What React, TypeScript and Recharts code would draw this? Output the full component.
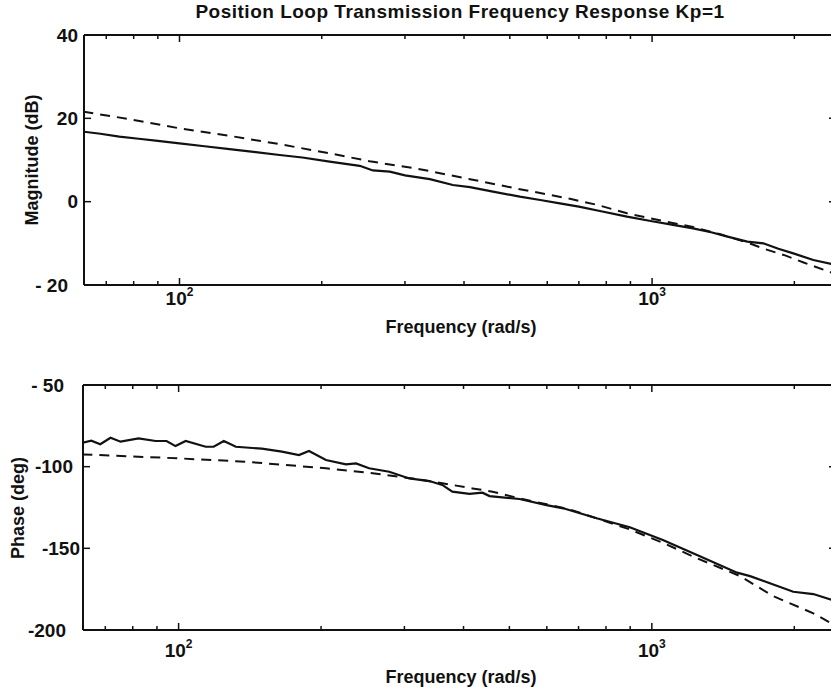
import React from 'react';
import { LineChart, Line, XAxis, YAxis } from 'recharts';

const FONT = '"Liberation Sans", Arial, Helvetica, sans-serif';
const INK = '#111';

// frequency axis, rad/s (log)
const freqDomain = [62.8, 2450];
const freqTicks = [70, 80, 90, 100, 200, 300, 400, 500, 600, 700, 800, 900, 1000, 2000];
const freqMajor = [100, 1000];

// magnitude, measured (solid)
const magMeasFreq = [62.6, 68, 74.6, 82, 90, 100, 113, 127.6, 145, 162.9, 182, 207.8, 240.6, 256.6, 278.6, 300, 338.6, 378.8, 411.7, 460.6, 525, 580, 638, 700, 780, 885, 1000, 1100, 1221, 1340, 1444, 1590, 1719, 1850, 1990, 2194, 2450];
const magMeasDb = [16.8, 16.3, 15.6, 15.1, 14.6, 14.0, 13.3, 12.6, 11.9, 11.2, 10.6, 9.6, 8.6, 7.5, 7.2, 6.3, 5.4, 4.0, 3.5, 2.4, 1.2, 0.4, -0.4, -1.2, -2.3, -3.6, -4.7, -5.5, -6.4, -7.4, -8.4, -9.6, -10.0, -11.3, -12.4, -14.0, -15.2];

// magnitude, model (dashed)
const magModelFreq = [62.6, 78.4, 100, 127.6, 162.9, 207.8, 252.6, 322.5, 411.7, 525, 670, 767, 885, 1050, 1221, 1400, 1590, 1736, 1912, 2092, 2302, 2450];
const magModelDb = [21.6, 19.8, 17.6, 15.8, 13.8, 11.6, 9.7, 7.8, 5.4, 3.0, 0.7, -0.8, -2.8, -4.6, -6.1, -7.9, -9.8, -11.4, -12.9, -14.6, -16.3, -17.4];

// phase, measured (solid)
const phaseMeasFreq = [62.6, 65.4, 68.3, 71.8, 75.4, 82.3, 89.4, 94.3, 98.5, 103.5, 114.1, 118.6, 124.6, 132.1, 149.9, 165.3, 179.6, 188.6, 204.8, 225.8, 237.1, 252.6, 278.6, 307.2, 338.6, 360.8, 378.8, 411.7, 438.6, 453.9, 525.2, 599, 650, 764.6, 898.2, 1055, 1246, 1514, 1613, 1776, 1990, 2194, 2450];
const phaseMeasDeg = [-85.3, -84.1, -86.3, -82.3, -84.7, -82.7, -84.3, -84.3, -87.4, -84.3, -87.8, -87.8, -84.3, -87.8, -89.0, -90.8, -92.9, -90.4, -95.9, -98.6, -98.0, -101.0, -103.1, -107.2, -108.8, -111.2, -115.3, -116.7, -115.9, -118.0, -119.8, -123.5, -125.5, -131.6, -137.1, -144.9, -154.1, -164.9, -167.0, -171.4, -176.6, -178.0, -182.3];

// phase, model (dashed)
const phaseModelFreq = [62.6, 100, 138.7, 204.8, 252.6, 322.5, 378.8, 417.8, 460.6, 525, 670, 898, 1055, 1246, 1536, 1804, 2194, 2450];
const phaseModelDeg = [-92.5, -94.9, -97.0, -101.0, -103.7, -107.8, -111.2, -113.3, -115.3, -119.4, -126.1, -138.4, -146.6, -156.1, -167.0, -179.2, -189.8, -197.5];

const magTicks = [-20, 0, 20, 40];
const magTickLabels = ['- 20', '0', '20', '40'];
const phaseTicks = [-200, -150, -100, -50];
const phaseTickLabels = ['-200', '-150', '-100', '- 50'];

const zip = (f: number[], v: number[]) => f.map((x, i) => ({ f: x, v: v[i] }));

const textStyle = { fontFamily: FONT, fontWeight: 700, fill: INK } as const;

const makeBottomTick = (labelDy: number) => ({ x, y, payload }: any) => {
  const major = freqMajor.includes(payload.value);
  return (
    <g>
      <line x1={x} y1={y} x2={x} y2={y - (major ? 7 : 4)} stroke={INK} strokeWidth={1.5} />
      {major && (
        <text x={x} y={y + labelDy} textAnchor="middle" fontSize={19} style={textStyle}>
          <tspan>10</tspan>
          <tspan dy={-9} fontSize={12}>{Math.round(Math.log10(payload.value))}</tspan>
        </text>
      )}
    </g>
  );
};

const TopTick = ({ x, y, payload }: any) => {
  const major = freqMajor.includes(payload.value);
  return <line x1={x} y1={y} x2={x} y2={y + (major ? 7 : 4)} stroke={INK} strokeWidth={1.5} />;
};

const makeLeftTick = (ticks: number[], labels: string[], right: Record<number, number>) => ({ x, y, payload }: any) => {
  const i = ticks.indexOf(payload.value);
  return (
    <g>
      <line x1={x} y1={y} x2={x + 7} y2={y} stroke={INK} strokeWidth={1.5} />
      <text x={right[payload.value] ?? x - 6} y={y} textAnchor="end" dominantBaseline="central" fontSize={19} style={textStyle}>
        {labels[i]}
      </text>
    </g>
  );
};

const RightTick = ({ x, y }: any) => <line x1={x} y1={y} x2={x - 7} y2={y} stroke={INK} strokeWidth={1.5} />;

const axisLine = { stroke: INK, strokeWidth: 2 };

interface PanelProps {
  height: number;
  top: number;
  xHeight: number;
  yWidth: number;
  domain: number[];
  ticks: number[];
  labels: string[];
  labelRight: Record<number, number>;
  labelDy: number;
  meas: { f: number; v: number }[];
  model: { f: number; v: number }[];
}

const Panel = ({ height, top, xHeight, yWidth, domain, ticks, labels, labelRight, labelDy, meas, model }: PanelProps) => (
  <LineChart width={850} height={height} margin={{ top: top - 1, right: 13, left: 0, bottom: 0 }}>
    <XAxis xAxisId="b" dataKey="f" type="number" scale="log" domain={freqDomain} ticks={freqTicks} interval={0}
      allowDataOverflow height={xHeight} tickLine={false} tickSize={0} tickMargin={0}
      tick={makeBottomTick(labelDy)} axisLine={axisLine} />
    <XAxis xAxisId="t" orientation="top" dataKey="f" type="number" scale="log" domain={freqDomain} ticks={freqTicks} interval={0}
      allowDataOverflow height={1} tickLine={false} tickSize={0} tickMargin={0} tick={TopTick} axisLine={axisLine} />
    <YAxis yAxisId="l" type="number" domain={domain} ticks={ticks} interval={0} allowDataOverflow width={yWidth}
      tickLine={false} tickSize={0} tickMargin={0} tick={makeLeftTick(ticks, labels, labelRight)} axisLine={axisLine} />
    <YAxis yAxisId="r" orientation="right" type="number" domain={domain} ticks={ticks} interval={0} allowDataOverflow width={1}
      tickLine={false} tickSize={0} tickMargin={0} tick={RightTick} axisLine={axisLine} />
    <Line xAxisId="b" yAxisId="l" data={model} dataKey="v" type="linear" stroke={INK} strokeWidth={2}
      strokeDasharray="10 7" dot={false} isAnimationActive={false} />
    <Line xAxisId="b" yAxisId="l" data={meas} dataKey="v" type="linear" stroke={INK} strokeWidth={2.2}
      dot={false} isAnimationActive={false} />
  </LineChart>
);

export default function App() {
  return (
    <div style={{ position: 'absolute', left: 0, top: 0, width: 831, height: 694, overflow: 'hidden', background: '#fff' }}>
      <div style={{ position: 'absolute', left: 0, top: 0 }}>
        <Panel height={345} top={35} xHeight={60} yWidth={84} domain={[-20, 40]} ticks={magTicks} labels={magTickLabels}
          labelRight={{ 40: 78, 20: 78, 0: 78, [-20]: 68 }} labelDy={20}
          meas={zip(magMeasFreq, magMeasDb)} model={zip(magModelFreq, magModelDb)} />
      </div>
      <div style={{ position: 'absolute', left: 0, top: 345 }}>
        <Panel height={349} top={40} xHeight={64} yWidth={83} domain={[-200, -50]} ticks={phaseTicks} labels={phaseTickLabels}
          labelRight={{ [-50]: 64, [-100]: 73, [-150]: 80, [-200]: 66 }} labelDy={27}
          meas={zip(phaseMeasFreq, phaseMeasDeg)} model={zip(phaseModelFreq, phaseModelDeg)} />
      </div>
      <svg width={831} height={694} style={{ position: 'absolute', left: 0, top: 0, pointerEvents: 'none' }}>
        <text x={460} y={18} textAnchor="middle" fontSize={19} letterSpacing={0.5} style={textStyle}>
          Position Loop Transmission Frequency Response Kp=1
        </text>
        <text x={461} y={333} textAnchor="middle" fontSize={18} style={textStyle}>Frequency (rad/s)</text>
        <text x={461} y={683} textAnchor="middle" fontSize={18} style={textStyle}>Frequency (rad/s)</text>
        <text x={32} y={160} textAnchor="middle" dominantBaseline="central" fontSize={18} style={textStyle}
          transform="rotate(-90 32 160)">Magnitude (dB)</text>
        <text x={18} y={508} textAnchor="middle" dominantBaseline="central" fontSize={18} style={textStyle}
          transform="rotate(-90 18 508)">Phase (deg)</text>
      </svg>
    </div>
  );
}
